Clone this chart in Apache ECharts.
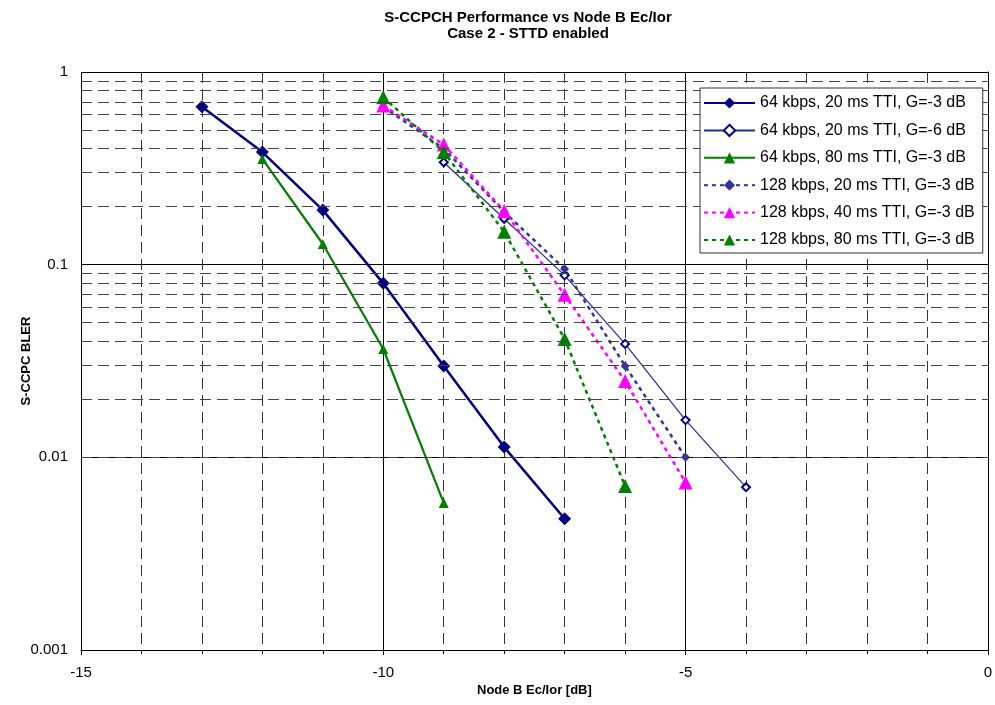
<!DOCTYPE html>
<html><head><meta charset="utf-8">
<script src="https://cdn.jsdelivr.net/npm/echarts@6/dist/echarts.min.js"></script>
<style>html,body{margin:0;padding:0;background:#fff}#c{width:995px;height:705px}</style>
</head><body><div id="c"></div><script>
// ---- data ----
const seriesNames = [
  '64 kbps, 20 ms TTI, G=-3 dB',
  '64 kbps, 20 ms TTI, G=-6 dB',
  '64 kbps, 80 ms TTI, G=-3 dB',
  '128 kbps, 20 ms TTI, G=-3 dB',
  '128 kbps, 40 ms TTI, G=-3 dB',
  '128 kbps, 80 ms TTI, G=-3 dB'
];
const s1X = [-13, -12, -11, -10, -9, -8, -7];
const s1Y = [0.66, 0.384, 0.192, 0.080, 0.0298, 0.0113, 0.0048];
const s2X = [-9, -8, -7, -6, -5, -4];
const s2Y = [0.34, 0.173, 0.088, 0.0388, 0.0156, 0.0070];
const s3X = [-12, -11, -10, -9];
const s3Y = [0.354, 0.128, 0.0365, 0.0058];
const s4X = [-10, -9, -8, -7, -6, -5];
const s4Y = [0.66, 0.40, 0.188, 0.095, 0.0298, 0.0100];
const s5X = [-10, -9, -8, -7, -6, -5];
const s5Y = [0.67, 0.42, 0.19, 0.0697, 0.0249, 0.0074];
const s6X = [-10, -9, -8, -7, -6];
const s6Y = [0.74, 0.384, 0.148, 0.0411, 0.0071];
const xTicks = [-15, -10, -5, 0];
const yTicks = [1, 0.1, 0.01, 0.001];
const yMinorLines = [0.002,0.003,0.004,0.005,0.006,0.007,0.008,0.009,
                     0.02,0.03,0.04,0.05,0.06,0.07,0.08,0.09,
                     0.2,0.3,0.4,0.5,0.6,0.7,0.8,0.9];
const titleLines = ['S-CCPCH Performance vs Node B Ec/Ior', 'Case 2 - STTD enabled'];
const xName = 'Node B Ec/Ior [dB]';
const yName = 'S-CCPC BLER';

function pairs(xs, ys){ return xs.map((x,i)=>[x, ys[i]]); }
const FONT = '"Liberation Sans", Arial, sans-serif';

const chart = echarts.init(document.getElementById('c'), null, {renderer:'canvas'});
chart.setOption({
  animation: false,
  backgroundColor: '#fff',
  title: {
    text: titleLines.join('\n'),
    left: 523, top: 5, textAlign: 'center',
    textStyle: {fontFamily: FONT, fontSize: 15, fontWeight: 'bold', color: '#000', lineHeight: 16}
  },
  grid: {left: 81, right: 3, top: 72, bottom: 55},
  legend: {
    orient: 'vertical', left: 700, top: 88, z: 100,
    padding: [7, 8, 5, 3],
    itemWidth: 51, itemHeight: 14, itemGap: 11.4,
    backgroundColor: '#fff', borderColor: '#333', borderWidth: 1,
    textStyle: {fontFamily: FONT, fontSize: 16, color: '#000', lineHeight: 16},
    data: seriesNames
  },
  xAxis: {
    type: 'value', min: -15, max: 0, interval: 5,
    axisLine: {lineStyle: {color: '#000', width: 1}},
    axisTick: {show: true, length: 5, lineStyle: {color: '#000'}},
    minorTick: {show: true, splitNumber: 5, length: 4, lineStyle: {color: '#000'}},
    axisLabel: {fontFamily: FONT, fontSize: 15, color: '#000', margin: 15,
      formatter: v => xTicks.includes(v) ? String(v) : ''},
    splitLine: {show: true, lineStyle: {color: '#000', width: 1}},
    minorSplitLine: {show: true, lineStyle: {color: '#333', width: 1, type: [11, 6]}},
    name: xName, nameLocation: 'middle', nameGap: 34, nameMoveOverlap: false,
    nameTextStyle: {fontFamily: FONT, fontSize: 13, fontWeight: 'bold', color: '#000'}
  },
  yAxis: {
    type: 'log', logBase: 10, min: 0.001, max: 1,
    axisLine: {show: true, lineStyle: {color: '#000', width: 1}},
    axisTick: {show: true, length: 5, lineStyle: {color: '#000'}},
    axisLabel: {fontFamily: FONT, fontSize: 15, color: '#000', margin: 13,
      formatter: v => String(parseFloat(Number(v).toPrecision(3)))},
    splitLine: {show: true, lineStyle: {color: '#000', width: 1}},
    name: yName, nameLocation: 'middle', nameGap: 48, nameMoveOverlap: false,
    nameTextStyle: {fontFamily: FONT, fontSize: 13, fontWeight: 'bold', color: '#000'}
  },
  series: [
    {
      type: 'line', name: '_minor', data: [], z: 1, silent: true,
      markLine: {
        silent: true, symbol: 'none', animation: false,
        label: {show: false},
        lineStyle: {color: '#444', width: 1, type: [11, 6]},
        data: yMinorLines.map(v => ({yAxis: v}))
      }
    },
    {
      type: 'line', name: seriesNames[0], data: pairs(s1X, s1Y), z: 3,
      symbol: 'diamond', symbolSize: 13,
      lineStyle: {color: '#000080', width: 2.5},
      itemStyle: {color: '#000080'}
    },
    {
      type: 'line', name: seriesNames[1], data: pairs(s2X, s2Y), z: 3,
      symbol: 'emptyDiamond', symbolSize: 8,
      lineStyle: {color: '#2a2a9a', width: 1.2},
      itemStyle: {color: '#000080', borderWidth: 1.3}
    },
    {
      type: 'line', name: seriesNames[2], data: pairs(s3X, s3Y), z: 3,
      symbol: 'triangle', symbolSize: 10,
      lineStyle: {color: '#008000', width: 2.2},
      itemStyle: {color: '#008000'}
    },
    {
      type: 'line', name: seriesNames[3], data: pairs(s4X, s4Y), z: 3,
      symbol: 'diamond', symbolSize: 9,
      lineStyle: {color: '#333399', width: 2.5, type: [4, 4]},
      itemStyle: {color: '#333399'}
    },
    {
      type: 'line', name: seriesNames[4], data: pairs(s5X, s5Y), z: 3,
      symbol: 'triangle', symbolSize: 14,
      lineStyle: {color: '#ff00ff', width: 2.5, type: [4, 4]},
      itemStyle: {color: '#ff00ff'}
    },
    {
      type: 'line', name: seriesNames[5], data: pairs(s6X, s6Y), z: 3,
      symbol: 'triangle', symbolSize: 14,
      lineStyle: {color: '#008000', width: 2.5, type: [4, 4]},
      itemStyle: {color: '#008000'}
    }
  ]
});
</script></body></html>
